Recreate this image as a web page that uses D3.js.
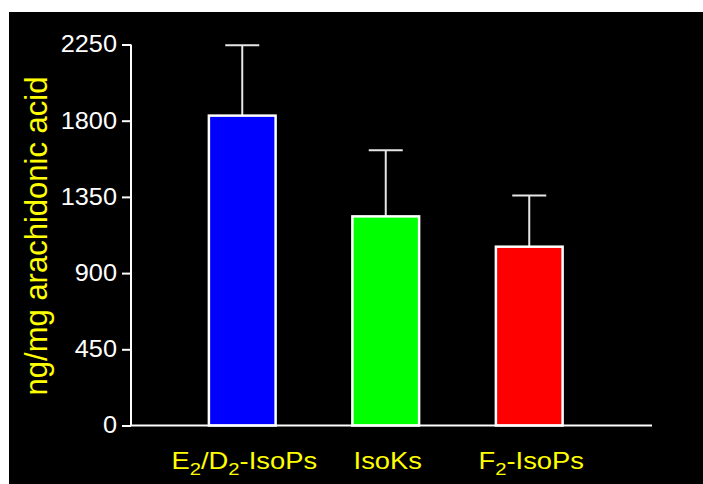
<!DOCTYPE html>
<html>
<head>
<meta charset="utf-8">
<script src="https://cdn.jsdelivr.net/npm/d3@7"></script>
<style>
  html, body { margin: 0; padding: 0; background: #fff; }
  svg { display: block; }
</style>
</head>
<body>
<script>
const categories = ["E2/D2-IsoPs", "IsoKs", "F2-IsoPs"];
const labelParts = [
  [["E", false], ["2", true], ["/D", false], ["2", true], ["-IsoPs", false]],
  [["IsoKs", false]],
  [["F", false], ["2", true], ["-IsoPs", false]]
];
const means = [1830, 1235, 1056];
const errors = [415, 390, 303];
const barColors = ["#0000ff", "#00ff00", "#ff0000"];
const yTicks = [0, 450, 900, 1350, 1800, 2250];

const W = 703, H = 484;
const FONT = "Arial, 'Liberation Sans', sans-serif";
const svg = d3.select("body").append("svg").attr("width", W).attr("height", H);

svg.append("rect").attr("x", 9).attr("y", 12).attr("width", W - 9).attr("height", H - 12).attr("fill", "#000");

const y = d3.scaleLinear().domain([0, 2250]).range([425.5, 44.5]);
const x = d3.scaleBand().domain(categories).range([170.5, 601]).paddingInner(0.535).paddingOuter(0.2675);

const axisX0 = 131, axisX1 = 652;

// Y axis
const yAxis = svg.append("g").attr("transform", `translate(${axisX0},0)`)
  .call(d3.axisLeft(y).tickValues(yTicks).tickSize(9).tickPadding(5).tickFormat(d3.format("d")));
yAxis.select(".domain").remove();
yAxis.append("line").attr("x1", 0).attr("x2", 0).attr("y1", y(2250)).attr("y2", y(0))
  .attr("stroke", "#fff").attr("stroke-width", 2);
yAxis.selectAll(".tick line").attr("stroke", "#fff").attr("stroke-width", 2);
yAxis.selectAll(".tick text").attr("fill", "#fff")
  .attr("x", 0).attr("transform", "translate(-14,0) scale(1.1,1)")
  .style("font-family", FONT).style("font-size", "23px");

// Error bars
const eb = svg.append("g");
categories.forEach((c, i) => {
  const cx = x(c) + x.bandwidth() / 2;
  eb.append("line").attr("x1", cx).attr("x2", cx).attr("y1", y(means[i])).attr("y2", y(means[i] + errors[i]))
    .attr("stroke", "#e6e6e6").attr("stroke-width", 2);
  eb.append("line").attr("x1", cx - 17).attr("x2", cx + 17).attr("y1", y(means[i] + errors[i])).attr("y2", y(means[i] + errors[i]))
    .attr("stroke", "#e6e6e6").attr("stroke-width", 2);
});

// Bars
svg.append("g").selectAll("rect").data(categories).join("rect")
  .attr("x", d => x(d))
  .attr("width", x.bandwidth())
  .attr("y", (d, i) => y(means[i]))
  .attr("height", (d, i) => y(0) - y(means[i]))
  .attr("fill", (d, i) => barColors[i])
  .attr("stroke", "#fff").attr("stroke-width", 2.5);

// X axis line
svg.append("line").attr("x1", axisX0 - 1).attr("x2", axisX1).attr("y1", y(0)).attr("y2", y(0))
  .attr("stroke", "#fff").attr("stroke-width", 2);

// X labels
const xl = svg.append("g").style("font-family", FONT).attr("fill", "#ffff00");
categories.forEach((c, i) => {
  const t = xl.append("text")
    .attr("transform", `translate(${x(c) + x.bandwidth() / 2 + 2},469) scale(1.19,1)`)
    .attr("text-anchor", "middle").style("font-size", "23px");
  labelParts[i].forEach(([s, sub], k) => {
    const ts = t.append("tspan").text(s);
    if (sub) ts.style("font-size", "17px").attr("dy", 6);
    else if (k > 0) ts.attr("dy", -6);
  });
});

// Y label
svg.append("text")
  .attr("transform", `translate(47,236) rotate(-90)`)
  .attr("text-anchor", "middle")
  .attr("fill", "#ffff00")
  .style("font-family", FONT)
  .style("font-size", "31px")
  .text("ng/mg arachidonic acid");
</script>
</body>
</html>
